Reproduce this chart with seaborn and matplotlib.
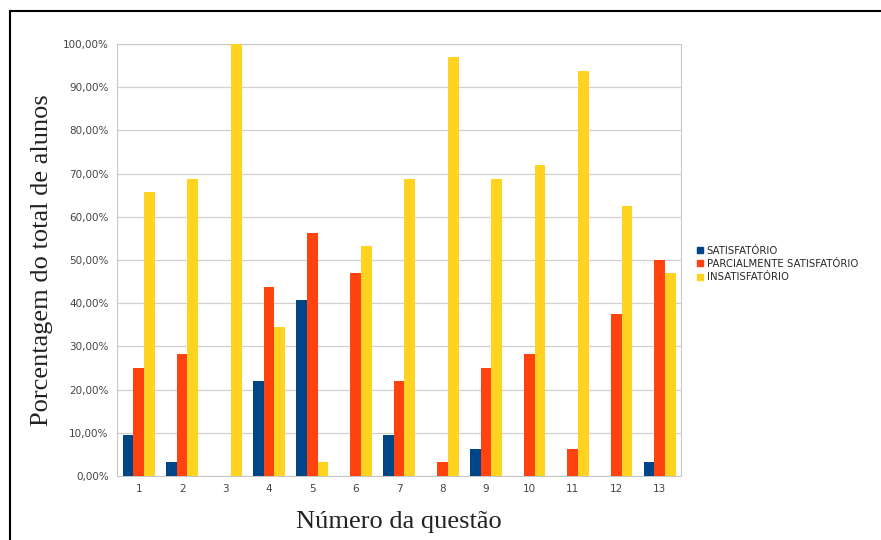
import pandas as pd
import seaborn as sns
import matplotlib.pyplot as plt
from matplotlib.ticker import FuncFormatter, MultipleLocator
from matplotlib.patches import Rectangle
from matplotlib.lines import Line2D

# Question numbers and the share of students (%) in each category
questions = [str(i) for i in range(1, 14)]
satisfatorio = [9.38, 3.13, 0.0, 21.88, 40.63, 0.0, 9.38, 0.0, 6.25, 0.0, 0.0, 0.0, 3.13]
parcial = [25.0, 28.13, 0.0, 43.75, 56.25, 46.88, 21.88, 3.13, 25.0, 28.13, 6.25, 37.5, 50.0]
insatisfatorio = [65.63, 68.75, 100.0, 34.38, 3.13, 53.13, 68.75, 96.88, 68.75, 71.88, 93.75, 62.5, 46.88]
categories = ["SATISFATÓRIO", "PARCIALMENTE SATISFATÓRIO", "INSATISFATÓRIO"]
colors = ["#004586", "#ff420e", "#ffd320"]

# Build a long table for seaborn
df = pd.DataFrame({
    "questao": questions * 3,
    "valor": satisfatorio + parcial + insatisfatorio,
    "categoria": [categories[0]] * 13 + [categories[1]] * 13 + [categories[2]] * 13,
})

sns.set_style("white")
fig = plt.figure(figsize=(8.81, 5.4), dpi=100)
ax = fig.add_axes([0.1328, 0.1185, 0.6405, 0.8])

sns.barplot(data=df, x="questao", y="valor", hue="categoria", order=questions,
            hue_order=categories, palette=colors, width=0.74, saturation=1,
            linewidth=0, ax=ax, zorder=3)

# Axes styling, LibreOffice-like
ax.set_ylim(0, 100)
ax.yaxis.set_major_locator(MultipleLocator(10))
ax.yaxis.set_major_formatter(FuncFormatter(lambda v, p: f"{v:.2f}%".replace(".", ",")))
ax.grid(axis="y", color="#d0d0d0", linewidth=0.9, zorder=0)
for s in ax.spines.values():
    s.set_color("#c8c8c8")
    s.set_linewidth(0.8)
ax.tick_params(axis="both", labelsize=7.5, colors="#444444", length=0, pad=6)
ax.set_xlim(-0.5, 12.5)
ax.set_xticks([i + 0.5 for i in range(-1, 13)], minor=True)
ax.tick_params(axis="x", which="minor", length=3, color="#c8c8c8", width=0.8)

# Axis titles in serif
ax.set_xlabel("Número da questão", fontfamily="Liberation Serif", fontsize=19,
              color="#222222", labelpad=12)
ax.set_ylabel("Porcentagem do total de alunos", fontfamily="Liberation Serif",
              fontsize=19, color="#222222", labelpad=7)

# Legend outside on the right
ax.get_legend().remove()
handles = [Line2D([0], [0], marker="s", color="none", markerfacecolor=c,
                  markeredgecolor=c, markersize=4) for c in colors]
fig.legend(handles, categories, loc="upper left", bbox_to_anchor=(0.787, 0.552),
           frameon=False, fontsize=7.3, handlelength=0.6, handletextpad=0.3,
           labelspacing=0.3, borderaxespad=0)

# Black frame of the screenshot
fig.patches.append(Rectangle((0.0115, -0.05), 1.1, 1.03, transform=fig.transFigure,
                             fill=False, edgecolor="black", linewidth=1.5))

fig.savefig("out.png", dpi=100)
